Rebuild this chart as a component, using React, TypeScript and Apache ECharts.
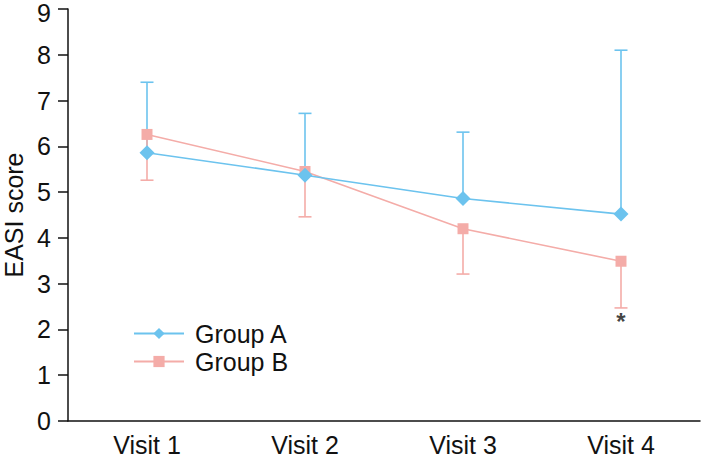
import React, { useEffect, useRef } from "react";
import * as echarts from "echarts";

const categories = ["Visit 1", "Visit 2", "Visit 3", "Visit 4"];
const groupA = [5.86, 5.37, 4.86, 4.52];
const groupAUpper = [7.4, 6.72, 6.31, 8.1];
const groupB = [6.26, 5.45, 4.2, 3.49];
const groupBLower = [5.26, 4.46, 3.21, 2.47];
const significanceIndex = [3];
const significanceLabel = "*";
const yMin = 0;
const yMax = 9;

const BLUE = "#6cc3ee";
const PINK = "#f4aca8";
const FONT = "Liberation Sans, Arial, sans-serif";

function errorBarRender(color: string) {
  return (params: any, api: any) => {
    const x = api.value(0);
    const p1 = api.coord([x, api.value(1)]);
    const p2 = api.coord([x, api.value(2)]);
    const half = 6.5;
    const style = { stroke: color, lineWidth: 1.6 };
    return {
      type: "group",
      children: [
        { type: "line", shape: { x1: p1[0], y1: p1[1], x2: p2[0], y2: p2[1] }, style },
        { type: "line", shape: { x1: p2[0] - half, y1: p2[1], x2: p2[0] + half, y2: p2[1] }, style },
      ],
    };
  };
}

export default function App() {
  const ref = useRef<HTMLDivElement>(null);
  useEffect(() => {
    if (!ref.current) return;
    const chart = echarts.init(ref.current, null, { renderer: "svg" });
    const errA = groupA.map((v, i) => [i, v, groupAUpper[i]]);
    const errB = groupB.map((v, i) => [i, v, groupBLower[i]]);
    const sig = significanceIndex.map((i) => [i, groupBLower[i]]);
    chart.setOption({
      animation: false,
      textStyle: { fontFamily: FONT },
      grid: { left: 68, right: 3, top: 9, bottom: 38, containLabel: false, outerBoundsMode: "none" },
      legend: {
        orient: "vertical",
        left: 133,
        top: 321,
        padding: 0,
        itemWidth: 50,
        itemHeight: 14,
        itemGap: 3,
        data: ["Group A", "Group B"],
        textStyle: { fontSize: 25, color: "#111", lineHeight: 24, fontFamily: FONT, padding: [0, 0, 0, 6] },
      },
      xAxis: {
        type: "category",
        data: categories,
        boundaryGap: true,
        axisLine: { lineStyle: { color: "#111", width: 1.5 } },
        axisTick: { length: 8, lineStyle: { color: "#111", width: 1.5 } },
        axisLabel: { fontSize: 25, color: "#111", margin: 11, fontFamily: FONT },
        splitLine: { show: false },
      },
      yAxis: {
        type: "value",
        min: yMin,
        max: yMax,
        interval: 1,
        name: "EASI score",
        nameLocation: "middle",
        nameRotate: 90,
        nameGap: 42,
        nameTextStyle: { fontSize: 25, color: "#111", fontFamily: FONT, lineHeight: 22 },
        axisLine: { show: true, lineStyle: { color: "#111", width: 1.5 } },
        axisTick: { show: true, length: 10, lineStyle: { color: "#111", width: 1.5 } },
        axisLabel: {
          fontSize: 25,
          color: "#111",
          margin: 17,
          fontFamily: FONT,
          lineHeight: 18,
          formatter: (v: number) => (v === yMax ? `{top|${v}}` : `${v}`),
          rich: {
            top: { fontSize: 25, color: "#111", fontFamily: FONT, lineHeight: 18, padding: [7, 0, 0, 0] },
          },
        },
        splitLine: { show: false },
      },
      series: [
        {
          type: "custom",
          name: "errA",
          data: errA,
          renderItem: errorBarRender(BLUE),
          z: 1,
          silent: true,
        },
        {
          type: "custom",
          name: "errB",
          data: errB,
          renderItem: errorBarRender(PINK),
          z: 1,
          silent: true,
        },
        {
          type: "line",
          name: "Group A",
          data: groupA,
          symbol: "diamond",
          symbolSize: 15,
          itemStyle: { color: BLUE },
          lineStyle: { color: BLUE, width: 1.6 },
          z: 3,
        },
        {
          type: "line",
          name: "Group B",
          data: groupB,
          symbol: "rect",
          symbolSize: 11,
          itemStyle: { color: PINK },
          lineStyle: { color: PINK, width: 1.6 },
          z: 2,
        },
        {
          type: "scatter",
          name: "sig",
          data: sig,
          symbolSize: 0,
          label: {
            show: true,
            formatter: significanceLabel,
            position: "bottom",
            distance: 2,
            fontSize: 24,
            fontWeight: "bold",
            color: "#111",
            fontFamily: FONT,
          },
          z: 4,
        },
      ],
    });
    return () => chart.dispose();
  }, []);
  return (
    <div
      ref={ref}
      style={{ position: "fixed", left: 0, top: 0, width: 703, height: 459, background: "#fff" }}
    />
  );
}
